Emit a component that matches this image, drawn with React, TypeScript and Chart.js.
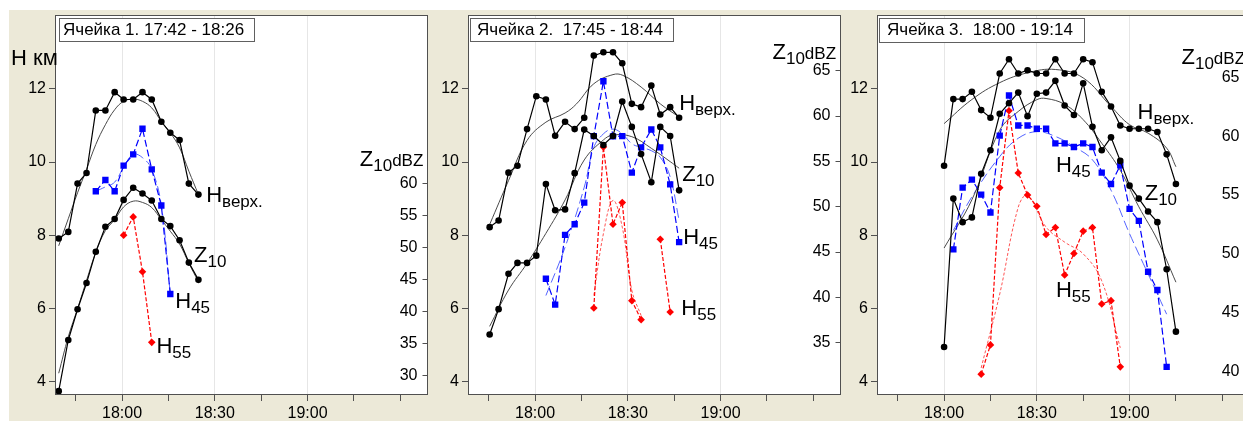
import React, { useEffect, useRef } from 'react';
import { Chart, registerables } from 'chart.js';

Chart.register(...registerables);

const FONT = "'Liberation Sans', Arial, sans-serif";

// ---------- Ячейка 1 (time: minutes relative to 18:00) ----------
const c1Times = [-20.5, -17.4, -14.4, -11.5, -8.5, -5.4, -2.4, 0.5, 3.6, 6.6, 9.6, 12.7, 15.6, 18.6, 21.6, 24.7];
const c1Htop = [7.91, 8.09, 9.41, 9.70, 11.41, 11.41, 11.91, 11.71, 11.71, 11.91, 11.71, 11.10, 10.80, 10.60, 9.41, 9.11];
const c1HtopTrend = [7.71, 8.45, 9.16, 9.80, 10.48, 11.02, 11.43, 11.66, 11.72, 11.66, 11.48, 11.11, 10.80, 10.39, 9.75, 9.11];
const c1Z10 = [27.5, 35.5, 40.3, 44.4, 49.3, 53.2, 54.4, 57.4, 59.3, 58.4, 57.3, 54.4, 53.3, 51.1, 47.6, 44.9];
const c1Z10Trend = [30.3, 36.0, 40.4, 44.8, 49.2, 52.6, 54.3, 56.3, 57.2, 57.0, 56.2, 54.3, 52.5, 50.5, 47.5, 44.6];
const c1H45Times = [-8.5, -5.4, -2.4, 0.5, 3.6, 6.6, 9.6, 12.7, 15.6];
const c1H45 = [9.20, 9.51, 9.20, 9.90, 10.21, 10.91, 9.80, 8.81, 6.39];
const c1H45Trend = [9.20, 9.32, 9.45, 9.86, 10.21, 10.12, 9.80, 8.81, 6.39];
const c1H55Times = [0.5, 3.6, 6.6, 9.6];
const c1H55 = [8.0, 8.5, 7.0, 5.07];

// ---------- Ячейка 2 ----------
const c2Times = [-14.7, -11.8, -8.6, -5.7, -2.6, 0.4, 3.5, 6.5, 9.7, 12.8, 15.9, 19.0, 22.1, 25.2, 28.2, 31.3, 34.3, 37.6, 40.5, 43.7, 46.6];
const c2Htop = [8.22, 8.40, 9.71, 9.90, 10.90, 11.80, 11.71, 10.72, 11.10, 10.90, 11.21, 12.91, 13.00, 13.00, 12.70, 11.59, 11.50, 12.09, 11.30, 11.50, 11.21];
const c2Z10 = [35.9, 38.7, 42.6, 43.8, 43.8, 44.6, 52.5, 49.6, 49.7, 53.7, 58.5, 57.8, 56.8, 57.8, 61.6, 58.8, 55.8, 52.7, 58.8, 57.8, 51.8];
const c2HtopTrendTimes = [-14.6, -8.6, -2.6, 3.5, 9.7, 13.4, 19.0, 25.2, 28.4, 34.3, 40.5, 46.6];
const c2HtopTrend = [8.31, 9.49, 10.59, 11.09, 11.34, 11.59, 12.14, 12.39, 12.37, 12.05, 11.59, 11.23];
const c2Z10TrendTimes = [-14.7, -8.6, -2.6, 3.5, 9.7, 15.9, 22.1, 25.2, 31.3, 37.6, 43.7, 46.6];
const c2Z10Trend = [36.8, 40.8, 43.75, 47.06, 50.74, 55.15, 57.36, 57.9, 57.72, 56.44, 54.97, 54.24];
const c2H45Times = [3.5, 6.5, 9.7, 12.8, 15.9, 19.0, 22.1, 25.2, 28.2, 31.3, 34.3, 37.6, 40.5, 43.7, 46.6];
const c2H45 = [6.81, 6.10, 8.01, 8.30, 8.89, 10.71, 12.21, 10.70, 10.71, 9.71, 10.40, 10.89, 10.40, 9.39, 7.81];
const c2H45TrendTimes = [3.5, 9.7, 15.9, 19.0, 22.1, 25.2, 28.2, 31.3, 34.3, 37.6, 40.5, 43.7, 46.6];
const c2H45Trend = [6.35, 7.67, 9.31, 10.4, 10.77, 10.9, 10.77, 10.5, 10.4, 10.31, 10.13, 9.59, 8.40];
const c2H55Times = [19.0, 22.1, 25.2, 28.2, 31.3, 34.3, 37.6, 40.5, 43.7];
const c2H55 = [6.01, 10.41, 8.30, 8.89, 6.21, 5.69, null, 7.89, 5.90];
const c2H55TrendTimes = [19.0, 22.1, 25.2, 28.2, 31.3, 34.3];
const c2H55Trend = [6.35, 8.04, 8.95, 8.22, 6.49, 5.80];

// ---------- Ячейка 3 ----------
const c3Times = [0, 3, 6, 9, 12, 15, 18, 21, 24, 27, 30, 33, 36, 39, 42, 45, 48, 51, 54, 57, 60, 63, 66, 69, 72, 75];
const c3Htop = [9.90, 11.72, 11.72, 11.92, 11.42, 11.21, 12.42, 12.81, 12.42, 12.51, 12.42, 12.42, 12.81, 12.42, 12.42, 12.81, 12.73, 11.92, 11.52, 11.00, 10.91, 10.91, 10.91, 10.82, 10.21, 9.40];
const c3Z10 = [42.1, 54.7, 52.7, 53.1, 56.8, 58.8, 61.9, 62.8, 63.7, 61.7, 63.6, 63.7, 64.7, 62.6, 61.8, 64.5, 60.8, 58.8, 59.9, 57.9, 55.8, 54.7, 53.6, 52.7, 48.7, 43.4];
const c3HtopTrendTimes = [0, 9, 18, 27, 36, 45, 54, 60, 66, 72, 75];
const c3HtopTrend = [11.05, 11.71, 12.17, 12.44, 12.53, 12.30, 11.52, 11.02, 10.79, 10.38, 9.87];
const c3Z10TrendTimes = [0, 9, 18, 24, 30, 33, 39, 45, 51, 57, 63, 69, 75];
const c3Z10Trend = [50.5, 54.6, 60.5, 62.1, 63.1, 63.2, 62.7, 61.4, 59.4, 57.1, 54.0, 51.2, 47.6];
const c3H45Times = [3, 6, 9, 12, 15, 18, 21, 24, 27, 30, 33, 36, 39, 42, 45, 48, 51, 54, 57, 60, 63, 66, 69, 72];
const c3H45 = [7.61, 9.30, 9.52, 9.11, 8.62, 10.72, 11.82, 11.0, 11.0, 10.91, 10.91, 10.51, 10.51, 10.41, 10.51, 10.41, 9.71, 9.40, 9.91, 8.72, 8.39, 7.0, 6.50, 4.40];
const c3H45TrendTimes = [3, 9, 18, 24, 30, 36, 42, 48, 54, 60, 66, 72];
const c3H45Trend = [8.13, 9.05, 10.15, 10.65, 10.83, 10.70, 10.42, 10.06, 9.23, 8.04, 6.94, 5.84];
const c3H55Times = [12, 15, 18, 21, 24, 27, 30, 33, 36, 39, 42, 45, 48, 51, 54, 57];
const c3H55 = [4.20, 5.0, 9.30, 11.40, 9.70, 9.10, 8.79, 8.02, 8.21, 6.91, 7.50, 8.11, 8.21, 6.12, 6.21, 4.40];
const c3H55TrendTimes = [12, 18, 24, 27, 33, 39, 45, 51, 57];
const c3H55Trend = [4.37, 6.39, 8.77, 9.09, 8.22, 7.81, 7.49, 6.75, 4.92];

// ---------- axes ----------
const xTickValues = [-15, 0, 15, 30, 45, 60, 75, 90];
const xLabelValues = [0, 30, 60];
const hTickValues = [4, 6, 8, 10, 12];
const z1TickValues = [30, 35, 40, 45, 50, 55, 60];
const z2TickValues = [35, 40, 45, 50, 55, 60, 65];
const z3TickValues = [40, 45, 50, 55, 60, 65];

const fmtTime = (v: number) => {
  const h = 18 + Math.floor(v / 60);
  const m = ((v % 60) + 60) % 60;
  return `${h}:${String(m).padStart(2, '0')}`;
};

const pts = (xs: number[], ys: (number | null)[]) => xs.map((x, i) => ({ x, y: ys[i] }));

const ST: Record<string, any> = {
  blackData: { borderColor: '#000', backgroundColor: '#000', borderWidth: 1.2, pointRadius: 3.3, pointStyle: 'circle', pointBorderWidth: 0 },
  blackTrend: { borderColor: '#4a4a4a', borderWidth: 1, pointRadius: 0, tension: 0.4 },
  blueData: { borderColor: '#0000ff', backgroundColor: '#0000ff', borderWidth: 1.2, borderDash: [7, 3], pointRadius: 4.5, pointStyle: 'rect', pointBorderWidth: 0 },
  blueTrend: { borderColor: 'rgba(40,60,255,0.8)', borderWidth: 1, borderDash: [10, 4], pointRadius: 0, tension: 0.4 },
  redData: { borderColor: '#ff0000', backgroundColor: '#ff0000', borderWidth: 1.2, borderDash: [4, 2], pointRadius: 3.8, pointStyle: 'rectRot', pointBorderWidth: 0 },
  redTrend: { borderColor: 'rgba(255,40,40,0.8)', borderWidth: 1, borderDash: [3, 2], pointRadius: 0, tension: 0.4 },
};

const ds = (label: string, data: any[], axis: string, style: string) => ({
  label, data, yAxisID: axis, ...ST[style], spanGaps: false, fill: false,
});

type Part = [string, number, number];
type Label = { t: number; v: number; parts: Part[] };

const sub = (main: string, s: string): Part[] => [[main, 22, 0], [s, 17, 5]];
const zAxisTitle: Part[] = [['Z', 22, 0], ['10', 17, 5], ['dBZ', 17, 0]];

const panels = [
  {
    canvasLeft: 0, canvasWidth: 432, yWidth: 55,
    zMin: 26.9, zMax: 86.3, zTicks: z1TickValues,
    title: 'Ячейка 1. 17:42 - 18:26', box: [4, 3, 195, 23], textDx: 8, showHkm: true,
    datasets: [
      ds('Нверх.', pts(c1Times, c1Htop), 'y', 'blackData'),
      ds('Z10', pts(c1Times, c1Z10), 'y2', 'blackData'),
      ds('H45', pts(c1H45Times, c1H45), 'y', 'blueData'),
      ds('H55', pts(c1H55Times, c1H55), 'y', 'redData'),
      ds('Нверх. тренд', pts(c1Times, c1HtopTrend), 'y', 'blackTrend'),
      ds('Z10 тренд', pts(c1Times, c1Z10Trend), 'y2', 'blackTrend'),
      ds('H45 тренд', pts(c1H45Times, c1H45Trend), 'y', 'blueTrend'),
    ],
    labels: [
      { t: 27.2, v: 8.90, parts: sub('Н', 'верх.') },
      { t: 23.3, v: 7.26, parts: sub('Z', '10') },
      { t: 17.2, v: 6.01, parts: sub('H', '45') },
      { t: 11.1, v: 4.78, parts: sub('H', '55') },
      { t: 76.9, v: 9.90, parts: zAxisTitle },
    ] as Label[],
  },
  {
    canvasLeft: 431, canvasWidth: 414, yWidth: 37,
    zMin: 29.23, zMax: 71.14, zTicks: z2TickValues,
    title: 'Ячейка 2.  17:45 - 18:44', box: [2, 3, 203, 23], textDx: 9, showHkm: false,
    datasets: [
      ds('Нверх.', pts(c2Times, c2Htop), 'y', 'blackData'),
      ds('Z10', pts(c2Times, c2Z10), 'y2', 'blackData'),
      ds('H45', pts(c2H45Times, c2H45), 'y', 'blueData'),
      ds('H55', pts(c2H55Times, c2H55), 'y', 'redData'),
      ds('Нверх. тренд', pts(c2HtopTrendTimes, c2HtopTrend), 'y', 'blackTrend'),
      ds('Z10 тренд', pts(c2Z10TrendTimes, c2Z10Trend), 'y2', 'blackTrend'),
      ds('H45 тренд', pts(c2H45TrendTimes, c2H45Trend), 'y', 'blueTrend'),
      ds('H55 тренд', pts(c2H55TrendTimes, c2H55Trend), 'y', 'redTrend'),
    ],
    labels: [
      { t: 46.6, v: 11.41, parts: sub('Н', 'верх.') },
      { t: 47.6, v: 9.47, parts: sub('Z', '10') },
      { t: 47.9, v: 7.75, parts: sub('H', '45') },
      { t: 47.3, v: 5.83, parts: sub('H', '55') },
      { t: 76.8, v: 12.83, parts: zAxisTitle },
    ] as Label[],
  },
  {
    canvasLeft: 844, canvasWidth: 410, yWidth: 33,
    zMin: 38.02, zMax: 70.29, zTicks: z3TickValues,
    title: 'Ячейка 3.  18:00 - 19:14', box: [2, 3, 205, 24], textDx: 10, showHkm: false,
    datasets: [
      ds('Нверх.', pts(c3Times, c3Htop), 'y', 'blackData'),
      ds('Z10', pts(c3Times, c3Z10), 'y2', 'blackData'),
      ds('H45', pts(c3H45Times, c3H45), 'y', 'blueData'),
      ds('H55', pts(c3H55Times, c3H55), 'y', 'redData'),
      ds('Нверх. тренд', pts(c3HtopTrendTimes, c3HtopTrend), 'y', 'blackTrend'),
      ds('Z10 тренд', pts(c3Z10TrendTimes, c3Z10Trend), 'y2', 'blackTrend'),
      ds('H45 тренд', pts(c3H45TrendTimes, c3H45Trend), 'y', 'blueTrend'),
      ds('H55 тренд', pts(c3H55TrendTimes, c3H55Trend), 'y', 'redTrend'),
    ],
    labels: [
      { t: 62.6, v: 11.18, parts: sub('Н', 'верх.') },
      { t: 36.2, v: 9.73, parts: sub('H', '45') },
      { t: 64.9, v: 8.95, parts: sub('Z', '10') },
      { t: 36.2, v: 6.31, parts: sub('H', '55') },
      { t: 76.8, v: 12.67, parts: zAxisTitle },
    ] as Label[],
  },
];

function drawParts(ctx: CanvasRenderingContext2D, x: number, y: number, parts: Part[]) {
  let cx = x;
  for (const [text, size, dy] of parts) {
    ctx.font = `${size}px ${FONT}`;
    ctx.fillText(text, cx, y + dy);
    cx += ctx.measureText(text).width;
  }
}

function makeConfig(p: any): any {
  const decor = {
    id: 'decor',
    beforeDraw(chart: any) {
      const { ctx, chartArea: a } = chart;
      ctx.save();
      ctx.fillStyle = '#ffffff';
      ctx.fillRect(a.left, a.top, a.right - a.left, a.bottom - a.top);
      ctx.restore();
    },
    afterDraw(chart: any) {
      const { ctx, chartArea: a, scales } = chart;
      ctx.save();
      ctx.strokeStyle = '#505050';
      ctx.lineWidth = 1;
      ctx.strokeRect(Math.round(a.left) + 0.5, Math.round(a.top) + 0.5, Math.round(a.right - a.left) - 1, Math.round(a.bottom - a.top) - 1);
      // title box
      const [bx, by, bw, bh] = p.box;
      ctx.fillStyle = '#ffffff';
      ctx.fillRect(a.left + bx, a.top + by, bw, bh);
      ctx.strokeStyle = '#606060';
      ctx.strokeRect(Math.round(a.left + bx) + 0.5, Math.round(a.top + by) + 0.5, bw, bh);
      ctx.fillStyle = '#000';
      ctx.textBaseline = 'alphabetic';
      ctx.textAlign = 'left';
      ctx.font = `17px ${FONT}`;
      ctx.fillText(p.title, a.left + p.textDx, a.top + 20);
      if (p.showHkm) {
        ctx.font = `22px ${FONT}`;
        ctx.fillText('Н км', a.left - 44, a.top + 50);
      }
      for (const l of p.labels as Label[]) {
        drawParts(ctx, scales.x.getPixelForValue(l.t), scales.y.getPixelForValue(l.v), l.parts);
      }
      ctx.restore();
    },
  };
  const tickFont = { family: FONT, size: 16 };
  return {
    type: 'line',
    data: { datasets: p.datasets },
    plugins: [decor],
    options: {
      animation: false,
      responsive: false,
      events: [],
      layout: { padding: { top: 15, right: 0, left: 0, bottom: 0 } },
      plugins: { legend: { display: false }, tooltip: { enabled: false } },
      scales: {
        x: {
          type: 'linear', min: -21.7, max: 98.8,
          afterBuildTicks: (s: any) => { s.ticks = xTickValues.map((v) => ({ value: v })); },
          afterFit: (s: any) => { s.height = 26; },
          border: { display: false },
          grid: {
            color: (c: any) => (c.tick && xLabelValues.includes(c.tick.value) ? '#e6e6e6' : 'rgba(0,0,0,0)'),
            tickColor: '#505050', tickLength: 6, lineWidth: 1,
          },
          ticks: {
            callback: (v: number) => (xLabelValues.includes(v) ? fmtTime(v) : ''),
            font: tickFont, color: '#000', padding: 3, maxRotation: 0, autoSkip: false,
          },
        },
        y: {
          type: 'linear', position: 'left', min: 3.63, max: 14.02,
          afterBuildTicks: (s: any) => { s.ticks = hTickValues.map((v) => ({ value: v })); },
          afterFit: (s: any) => { s.width = p.yWidth; },
          border: { display: false },
          grid: { drawOnChartArea: false, tickColor: '#505050', tickLength: 6 },
          ticks: { font: tickFont, color: '#000', padding: 3, callback: (v: number) => String(v) },
        },
        y2: {
          type: 'linear', position: 'right', min: p.zMin, max: p.zMax,
          afterBuildTicks: (s: any) => { s.ticks = p.zTicks.map((v: number) => ({ value: v })); },
          afterFit: (s: any) => { s.width = 2; },
          border: { display: false },
          grid: { drawOnChartArea: false, tickColor: '#505050', tickLength: -5 },
          ticks: { mirror: true, font: tickFont, color: '#000', padding: -10, callback: (v: number) => String(v) },
        },
      },
    },
  };
}

function Panel({ p }: { p: any }) {
  const ref = useRef<HTMLCanvasElement>(null);
  useEffect(() => {
    const chart = new Chart(ref.current as HTMLCanvasElement, makeConfig(p));
    return () => chart.destroy();
  }, []);
  return (
    <canvas
      ref={ref}
      width={p.canvasWidth}
      height={421}
      style={{ position: 'absolute', left: p.canvasLeft, top: 0, width: p.canvasWidth, height: 421 }}
    />
  );
}

export default function App() {
  return (
    <div style={{ position: 'absolute', left: 0, top: 0, width: 1243, height: 421, overflow: 'hidden', background: '#ffffff' }}>
      <div style={{ position: 'absolute', left: 9, top: 10, right: 0, bottom: 0, background: '#ece9d8' }} />
      {panels.map((p, i) => (
        <Panel key={i} p={p} />
      ))}
    </div>
  );
}
